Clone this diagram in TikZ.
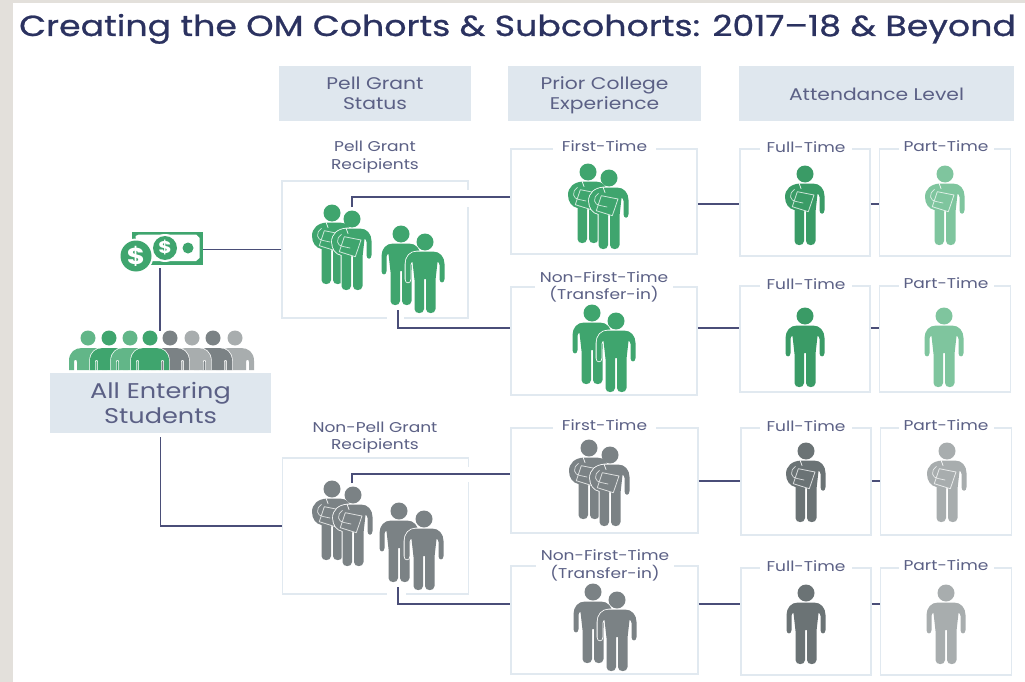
\documentclass[tikz,border=0pt]{standalone}
\usepackage{fontspec}
\setmainfont[FakeStretch=1.2]{Poppins}
\definecolor{gMain}{HTML}{3FA56E}
\definecolor{gFull}{HTML}{3A9B66}
\definecolor{gPart}{HTML}{7FC59E}
\definecolor{gCrowd}{HTML}{62B688}
\definecolor{kMain}{HTML}{7B8285}
\definecolor{kFull}{HTML}{6B7375}
\definecolor{kPart}{HTML}{A8ADAE}
\definecolor{inkT}{HTML}{2B3260}
\definecolor{ink}{HTML}{5B6085}
\definecolor{hdr}{HTML}{DFE7EE}
\definecolor{frm}{HTML}{E1E9F0}
\definecolor{wire}{HTML}{4A4E78}
\definecolor{page}{HTML}{E3E0DB}
\def\manpath{(0,9.5) -- (8,9.5) .. controls (15,9.5) and (19.5,15) .. (19.5,22) -- (19.5,37)
  .. controls (19.5,41.5) and (14.5,41.5) .. (14.5,37) -- (14.5,23) .. controls (14.5,21) and (13.5,20) .. (12.5,20)
  -- (10.5,38) -- (10.5,67) .. controls (10.5,72.5) and (1,72.5) .. (1,67) -- (1,37) -- (-1,37) -- (-1,67)
  .. controls (-1,72.5) and (-10.5,72.5) .. (-10.5,67) -- (-10.5,38) -- (-12.5,20) .. controls (-13.5,20) and (-14.5,21) .. (-14.5,23)
  -- (-14.5,37) .. controls (-14.5,41.5) and (-19.5,41.5) .. (-19.5,37) -- (-19.5,22) .. controls (-19.5,15) and (-15,9.5) .. (-8,9.5) -- cycle}
\def\bookpath{(-5,9.5) -- (8,9.5) .. controls (15,9.5) and (19.5,15) .. (19.5,22) -- (19.5,36)
  .. controls (19.5,41) and (14.5,41) .. (14.5,36) -- (14.5,23) .. controls (14.5,21) and (13.5,20) .. (12.5,20)
  -- (10.5,38) -- (10.5,67) .. controls (10.5,72.5) and (1,72.5) .. (1,67) -- (1,37) -- (-1,37) -- (-1,67)
  .. controls (-1,72.5) and (-10.5,72.5) .. (-10.5,67) -- (-10.5,36) .. controls (-16,35) and (-20,30) .. (-20,23)
  .. controls (-20,15) and (-14,10) .. (-5,9.5) -- cycle}
\def\bustpath{(-6,348) -- (6,348) .. controls (13,348) and (19,352) .. (19,361) -- (19,370) -- (14,370) -- (14,362)
  .. controls (14,359) and (11,359) .. (11,362) -- (11,370) -- (-11,370) -- (-11,362)
  .. controls (-11,359) and (-14,359) .. (-14,362) -- (-14,370) -- (-19,370) -- (-19,361) .. controls (-19,352) and (-13,348) .. (-6,348) -- cycle}
\tikzset{
  pics/man/.style={code={
    \draw[white,line width=1.6pt,line join=round] \manpath;
    \fill[#1] (0,0) circle (8.5);
    \fill[#1] \manpath;
  }},
  pics/bookman/.style={code={
    \draw[white,line width=1.6pt,line join=round] \bookpath;
    \fill[#1] (0,0) circle (8.5);
    \fill[#1] \bookpath;
    \draw[white!75!#1,line width=.8pt,line join=round,fill=#1] (-7.7,17.7) -- (9,21) -- (3.3,37.7) -- (-12.7,32.7) -- cycle;
    \draw[white,line width=.7pt,line cap=round] (-6,9) -- (-4,14.5);
    \draw[white!75!#1,line width=.7pt,line cap=round] (-10.5,15.5) .. controls (-17,20) and (-15,27) .. (-9,27.5) -- (-2,29);
  }},
  pics/bust/.style={code={
    \draw[white,line width=1.4pt,line join=round] \bustpath;
    \fill[#1] (0,338) circle (7.5);
    \fill[#1] \bustpath;
  }},
  frame/.style={draw=frm,line width=1.5pt,fill=none,inner sep=0pt,minimum width=#1},
  frame/.default=10pt,
  hdrbox/.style={fill=hdr,inner sep=0pt},
  hdrtext/.style={inner sep=0pt,text=ink,align=center,font=\fontsize{16.9}{20.5}\selectfont},
  lab/.style={text=ink,align=center,fill=white,inner sep=0pt,font=\fontsize{14.2}{17.5}\selectfont},
  conn/.style={draw=wire,line width=1.3pt}
}
\begin{document}
\begin{tikzpicture}[x=1pt,y=-1pt]
\useasboundingbox (0,0) rectangle (1025,682);
\fill[page] (0,0) rectangle (1025,682);
\fill[white] (13,3) rectangle (1025,682);

\node[anchor=base west,inner sep=0pt,text=inkT,font=\fontsize{29}{32}\selectfont] (title) at (19,36)
  {\addfontfeature{FakeBold=0.8}Creating the OM Cohorts \& Subcohorts: 2017–18 \& Beyond};

% column headers
\node[hdrbox,minimum width=192pt,minimum height=55pt] (h1) at (375,94) {};
\node[hdrbox,minimum width=193pt,minimum height=55pt] (h2) at (604.5,94) {};
\node[hdrbox,minimum width=275pt,minimum height=55pt] (h3) at (876.5,94) {};
\node[hdrtext] (h1t) at (375,95.5) {Pell Grant\strut\\Status\strut};
\node[hdrtext] (h2t) at (604.5,95.5) {Prior College\strut\\Experience\strut};
\node[hdrtext] (h3t) at (876.5,94) {Attendance Level};

% frames
\node[frame=186pt,minimum height=137pt] (pell) at (375,249.5) {};
\node[frame=186pt,minimum height=136pt] (nonpell) at (375.5,526) {};
\node[frame=186pt,minimum height=105pt] (first1) at (604,201.5) {};
\node[frame=186pt,minimum height=108pt] (nf1) at (604,341) {};
\node[frame=187pt,minimum height=105pt] (first2) at (604.5,480.5) {};
\node[frame=187pt,minimum height=108pt] (nf2) at (604.5,620) {};
\node[frame=130pt,minimum height=107pt] (ft1) at (805,202.5) {};
\node[frame=131pt,minimum height=107pt] (pt1) at (945,202.5) {};
\node[frame=130pt,minimum height=106pt] (ft2) at (805,339) {};
\node[frame=131pt,minimum height=106pt] (pt2) at (945,339) {};
\node[frame=130pt,minimum height=107pt] (ft3) at (806,481.5) {};
\node[frame=131pt,minimum height=107pt] (pt3) at (946,481.5) {};
\node[frame=130pt,minimum height=107pt] (ft4) at (806,621.5) {};
\node[frame=131pt,minimum height=107pt] (pt4) at (946,621.5) {};

% gaps in the two group frames
\fill[white] (464,190) rectangle (472,207);
\fill[white] (387,314) rectangle (404,322);
\fill[white] (464,467) rectangle (472,482);
\fill[white] (387,590) rectangle (406,598);

% frame labels
\node[lab,fill=none] (lpell) at (375,157) {Pell Grant\\Recipients};
\node[lab,fill=none] (lnon) at (375,437.5) {Non-Pell Grant\\Recipients};
\node[lab,minimum width=103pt,minimum height=14pt] (l1) at (604.5,146) {First-Time};
\node[lab,minimum width=138pt] (l2) at (604,287) {Non-First-Time\\(Transfer-in)};
\node[lab,minimum width=103pt,minimum height=14pt] (l3) at (604.5,425.5) {First-Time};
\node[lab,minimum width=138pt] (l4) at (605,565.5) {Non-First-Time\\(Transfer-in)};
\foreach \nm/\txt/\xx/\yy/\ww in {a/Full-Time/806/147/92,b/Part-Time/946/146/95,c/Full-Time/806/284/92,d/Part-Time/946/283/95,e/Full-Time/806/426/92,f/Part-Time/946/425/95,g/Full-Time/806/566/92,h/Part-Time/946/565/95}
  \node[lab,minimum width=\ww pt,minimum height=14pt] (t\nm) at (\xx,\yy) {\txt};

% money icon and entering students
\node[fill=gMain,minimum width=71pt,minimum height=33pt,inner sep=0pt] (money) at (167.5,248) {};
\fill[white] (135.5,236) -- (139,234.5) -- (196,234.5) -- (199.5,238) -- (199.5,258) -- (196,261) -- (139,261) -- cycle;
\fill[gMain] (188,248) circle (5.5);
\fill[white] (165,248) circle (14);
\node[circle,fill=gMain,minimum size=24pt,inner sep=0pt,text=white,font=\fontsize{17}{17}\selectfont\bfseries] (dollarb) at (165,248) {\$};
\fill[white] (136,256) circle (17.5);
\node[circle,fill=gMain,minimum size=31pt,inner sep=0pt,text=white,font=\fontsize{23}{23}\selectfont\bfseries] (dollara) at (136,256) {\$};

\node[hdrbox,minimum width=221pt,minimum height=60pt] (enter) at (160.5,403) {};
\node[hdrtext,font=\fontsize{21.3}{25}\selectfont] (entert) at (160.5,405.5) {All Entering\strut\\Students\strut};
\coordinate (mtail) at (160,268);
\coordinate (ctop) at (160,331);
\coordinate (pa) at (352,207);
\coordinate (pb) at (398,310);
\coordinate (na) at (352,483);
\coordinate (nb) at (398,587);

% connectors
\draw[conn] (mtail) -- (ctop);
\draw[conn] (money.east |- pell.west) -- (pell.west);
\draw[conn] ([yshift=-4pt]enter.south) |- (nonpell.west);
\draw[conn] (pa) |- ([yshift=4.5pt]first1.west);
\draw[conn] (pb) |- ([yshift=13pt]nf1.west);
\draw[conn] (na) |- ([yshift=6.5pt]first2.west);
\draw[conn] (nb) |- ([yshift=16pt]nf2.west);
\draw[conn] ([yshift=-2.5pt]first1.east) -- ([yshift=-1.5pt]ft1.west);
\draw[conn] ([yshift=13pt]nf1.east) -- ([yshift=11pt]ft2.west);
\draw[conn] ([yshift=-.5pt]first2.east) -- ([yshift=.5pt]ft3.west);
\draw[conn] ([yshift=16pt]nf2.east) -- ([yshift=17.5pt]ft4.west);
\draw[conn] ([yshift=-1.5pt]ft1.east) -- ([yshift=-1.5pt]pt1.west);
\draw[conn] ([yshift=11pt]ft2.east) -- ([yshift=11pt]pt2.west);
\draw[conn] ([yshift=.5pt]ft3.east) -- ([yshift=.5pt]pt3.west);
\draw[conn] ([yshift=17.5pt]ft4.east) -- ([yshift=17.5pt]pt4.west);

% crowd
\foreach \cx/\cc in {88/gCrowd,109/gMain,130/gCrowd,235/kPart,213/kMain,192/kPart,170/kMain,150/gMain}
  \pic at (\cx,0) {bust=\cc};

% figures
\pic at (332,213) {bookman=gMain};
\pic at (352,219) {bookman=gMain};
\pic at (401,234) {man=gMain};
\pic at (425,242) {man=gMain};
\pic at (332,489) {bookman=kMain};
\pic at (353,495) {bookman=kMain};
\pic at (399,511) {man=kMain};
\pic at (424,519) {man=kMain};
\pic at (588,172) {bookman=gMain};
\pic at (609,178) {bookman=gMain};
\pic at (592,313) {man=gMain};
\pic at (616,321) {man=gMain};
\pic at (589,448) {bookman=kMain};
\pic at (610,455) {bookman=kMain};
\pic at (593,592) {man=kMain};
\pic at (617,600) {man=kMain};
\pic at (805,174) {bookman=gFull};
\pic at (945,174) {bookman=gPart};
\pic at (805,316) {man=gFull};
\pic at (944,316) {man=gPart};
\pic at (806,451) {bookman=kFull};
\pic at (947,451) {bookman=kPart};
\pic at (806,593) {man=kFull};
\pic at (946,593) {man=kPart};
\end{tikzpicture}
\end{document}
